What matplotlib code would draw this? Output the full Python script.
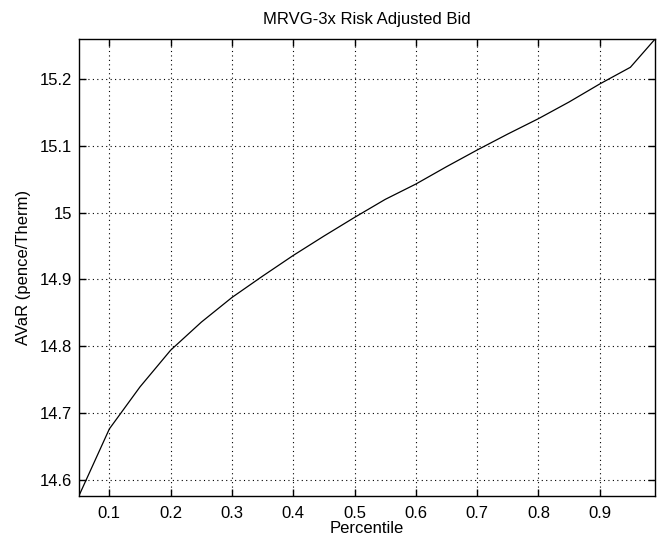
import matplotlib
matplotlib.use('Agg')
import matplotlib.pyplot as plt
from matplotlib import ticker

# percentile vs. AVaR of the risk adjusted bid
percentile = [0.05, 0.10, 0.15, 0.20, 0.25, 0.30, 0.35, 0.40, 0.45, 0.50,
              0.55, 0.60, 0.65, 0.70, 0.75, 0.80, 0.85, 0.90, 0.95, 0.99]
avar = [14.575, 14.676, 14.739, 14.794, 14.836, 14.873, 14.905, 14.936, 14.965, 14.993,
        15.020, 15.043, 15.069, 15.094, 15.118, 15.141, 15.166, 15.193, 15.218, 15.260]

x_ticks = [0.1, 0.2, 0.3, 0.4, 0.5, 0.6, 0.7, 0.8, 0.9]
y_ticks = [14.6, 14.7, 14.8, 14.9, 15.0, 15.1, 15.2]

plt.rcParams['font.family'] = ['Liberation Sans', 'DejaVu Sans']
plt.rcParams['font.size'] = 12

fig = plt.figure(figsize=(6.57, 5.44), dpi=100)
ax = fig.add_axes([0.1198, 0.0877, 0.877, 0.8401])

ax.plot(percentile, avar, color='black', lw=0.9)

ax.set_xlim(min(percentile), max(percentile))
ax.set_ylim(min(avar), max(avar))
ax.set_xticks(x_ticks)
ax.set_yticks(y_ticks)
ax.yaxis.set_major_formatter(ticker.FuncFormatter(lambda v, p: '%g' % round(v, 2)))

ax.tick_params(direction='in', length=5, width=1, top=True, right=True,
               colors='black', labelsize=12)
ax.tick_params(axis='x', pad=7)
ax.tick_params(axis='y', pad=5)
for s in ax.spines.values():
    s.set_linewidth(1)
    s.set_color('black')

ax.grid(True, color='black', linestyle=(0, (1, 3)), linewidth=0.8)

ax.set_title('MRVG-3x Risk Adjusted Bid', fontsize=12, pad=11)
ax.set_xlabel('Percentile', fontsize=12, labelpad=0)
ax.set_ylabel('AVaR (pence/Therm)', fontsize=12, labelpad=6)

fig.savefig('out.png', dpi=100, facecolor='white')
